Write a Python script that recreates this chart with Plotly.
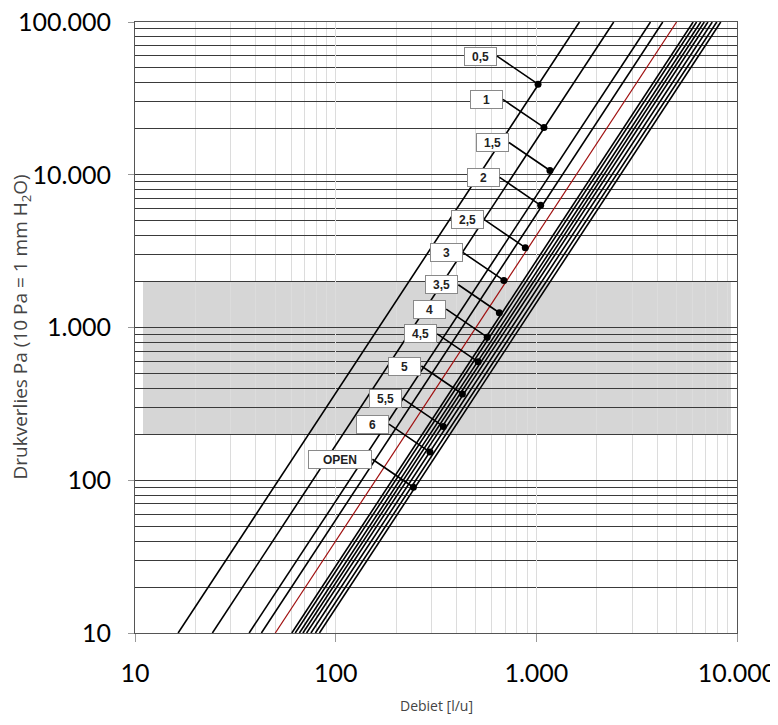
import numpy as np
import plotly.graph_objects as go

# ---- data ----
settings = ["0,5", "1", "1,5", "2", "2,5", "3", "3,5", "4", "4,5", "5", "5,5", "6", "OPEN"]
# flow (l/u) at 100.000 Pa (1 bar) for each characteristic line
kv_lph = [1640, 2430, 3705, 4265, 5000, 6045, 6290, 6595, 6868, 7166, 7530, 7925, 8300]
line_colors = ["black"] * 4 + ["#a01010"] + ["black"] * 8
# label marker points (flow l/u, pressure Pa)
marker_q = [1020, 1091, 1169, 1051, 881, 689, 654, 569, 513, 428, 344, 295, 244]
marker_p = [39200, 20400, 10660, 6310, 3333, 2032, 1249, 864, 596, 367, 225, 153, 90]
band_p = [200, 2000]
band_q = [10.96, 9325]

x_tickvals = [10, 100, 1000, 10000]
x_ticktext = ["10", "100", "1.000", "10.000"]
y_tickvals = [10, 100, 1000, 10000, 100000]
y_ticktext = ["10", "100", "1.000", "10.000", "100.000"]

x_title = "Debiet [l/u]"
y_title = "Drukverlies Pa (10 Pa = 1 mm H<sub>2</sub>O)"

P_MIN, P_MAX = 10, 100000

fig = go.Figure()

for kv, col in zip(kv_lph, line_colors):
    p = np.array([P_MIN, P_MAX], dtype=float)
    q = kv * np.sqrt(p / 1e5)
    fig.add_trace(go.Scatter(x=q, y=p, mode="lines",
                             line=dict(color=col, width=1.2 if col != "black" else 1.6),
                             hoverinfo="skip", showlegend=False))

fig.add_trace(go.Scatter(x=marker_q, y=marker_p, mode="markers",
                         marker=dict(color="black", size=7),
                         hoverinfo="skip", showlegend=False))

for lab, q, p in zip(settings, marker_q, marker_p):
    fig.add_annotation(x=np.log10(q), y=np.log10(p), xref="x", yref="y",
                       text="<b>%s</b>" % lab, showarrow=True,
                       ax=-41, ay=-28, xanchor="right", yanchor="middle",
                       arrowhead=0, arrowwidth=1.6, arrowcolor="black",
                       standoff=0, startstandoff=0,
                       bgcolor="white", bordercolor="#8a8a8a", borderwidth=1,
                       borderpad=2, width=58 if lab == "OPEN" else 27, height=13,
                       font=dict(family="Liberation Sans", size=12, color="#222"))

fig.add_shape(type="rect", xref="x", yref="y",
              x0=band_q[0], x1=band_q[1], y0=band_p[0], y1=band_p[1],
              fillcolor="#d6d6d6", line=dict(width=0), layer="below")

def minor_vals(lo_exp, hi_exp):
    out = []
    for e in range(lo_exp, hi_exp):
        for m in range(2, 10):
            out.append(m * 10 ** e)
    return out

fig.update_xaxes(type="log", range=[1, 4], tickmode="array", automargin=False,
                 tickvals=x_tickvals, ticktext=x_ticktext,
                 ticks="outside", ticklen=8, tickcolor="#999",
                 ticklabelstandoff=10, ticklabeloverflow="allow",
                 tickfont=dict(family="Lato", size=25, color="black"),
                 showgrid=True, gridcolor="#dcdcdc", gridwidth=1,
                 minor=dict(tickmode="array", tickvals=minor_vals(1, 4),
                            showgrid=True, gridcolor="#dcdcdc", gridwidth=1, ticks=""),
                 showline=True, linecolor="#555", linewidth=1.2, mirror=True,
                 zeroline=False)
fig.update_yaxes(type="log", range=[1, 5], tickmode="array", automargin=False,
                 tickvals=y_tickvals, ticktext=y_ticktext,
                 ticks="outside", ticklen=6, tickcolor="#999",
                 ticklabelstandoff=12, ticklabeloverflow="allow",
                 tickfont=dict(family="Lato", size=25, color="black"),
                 showgrid=True, gridcolor="#3a3a3a", gridwidth=1.2,
                 minor=dict(tickmode="array", tickvals=minor_vals(1, 5),
                            showgrid=True, gridcolor="#3a3a3a", gridwidth=1.2, ticks=""),
                 showline=True, linecolor="#555", linewidth=1.2, mirror=True,
                 zeroline=False)

fig.add_annotation(xref="paper", yref="paper", x=0.5, y=-0.118,
                   text=x_title, showarrow=False, xanchor="center", yanchor="middle",
                   font=dict(family="Open Sans", size=14, color="#444"))
fig.add_annotation(xref="paper", yref="paper", x=-0.191, y=0.5,
                   text=y_title, showarrow=False, textangle=-90,
                   xanchor="center", yanchor="middle",
                   font=dict(family="Open Sans", size=19, color="#444"))

fig.update_layout(width=770, height=709,
                  margin=dict(l=127, r=41, t=14, b=84),
                  plot_bgcolor="white", paper_bgcolor="white",
                  showlegend=False)

fig.write_html("out.html")
